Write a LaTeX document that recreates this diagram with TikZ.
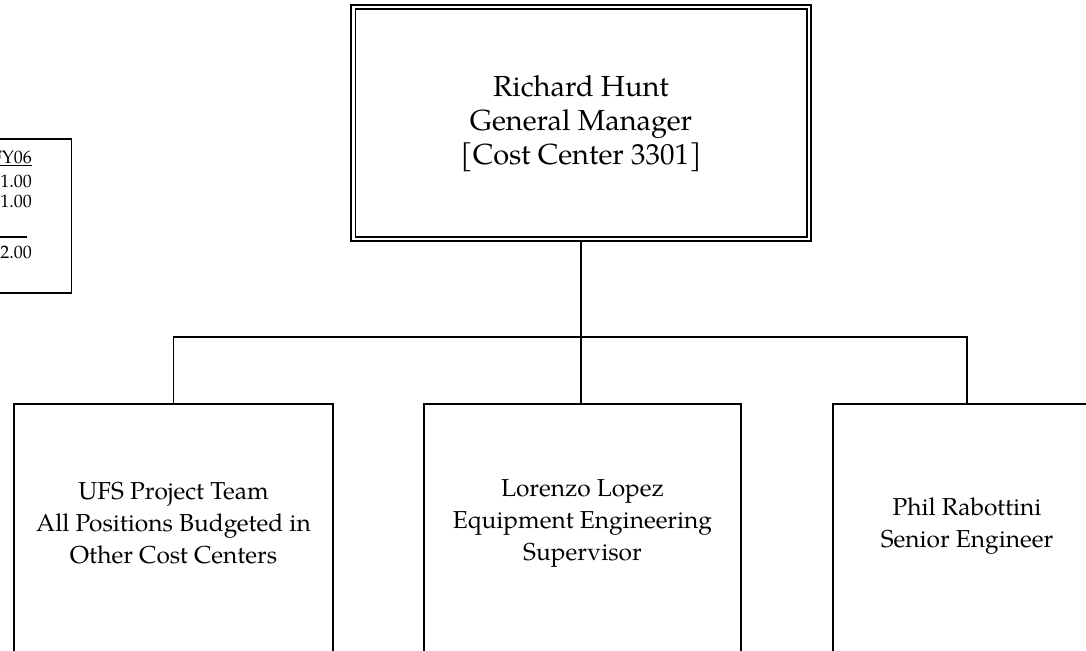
\documentclass[tikz,border=0pt]{standalone}
\usepackage{fontspec}
\setmainfont{TeX Gyre Pagella}
\begin{document}
\begin{tikzpicture}[x=1pt,y=-1pt,
  box/.style={draw, line width=1.7pt, rectangle, inner sep=0pt},
  conn/.style={line width=1.7pt},
  toptext/.style={font=\fontsize{29}{34}\selectfont, align=center, inner sep=0pt},
  subtext/.style={font=\fontsize{24.5}{32}\selectfont, align=center, inner sep=0pt},
  legtext/.style={font=\fontsize{18}{20}\selectfont, anchor=base east, inner sep=0pt}]
\useasboundingbox (0,0) rectangle (1086,650);
\clip (0,0) rectangle (1086,650);
% top box with double border
\node[box, line width=2.7pt, minimum width=460pt, minimum height=236pt] (gm) at (581,123) {};
\draw[line width=1.3pt] ([xshift=5.5pt,yshift=-5.5pt]gm.north west) rectangle ([xshift=-5.5pt,yshift=5.5pt]gm.south east);
\node[toptext] (gmT) at (581,124) {Richard Hunt\\General Manager\\{[Cost Center 3301]}};
% bottom boxes
\node[box, minimum width=319pt, minimum height=300pt, anchor=north] (ufs) at (173.5,403) {};
\node[box, minimum width=317pt, minimum height=300pt, anchor=north] (lop) at (582.5,403) {};
\node[box, minimum width=268pt, minimum height=300pt, anchor=north] (phil) at (967,403) {};
\node[subtext] (ufsT) at (173.5,523) {UFS Project Team\\All Positions Budgeted in\\Other Cost Centers};
\node[subtext] (lopT) at (582.5,523) {Lorenzo Lopez\\Equipment Engineering\\Supervisor};
\node[subtext] (philT) at (967,526) {Phil Rabottini\\Senior Engineer};
% connectors
\coordinate (j) at (581,337);
\draw[conn] (gm.south -| j) -- (lop.north -| j);
\draw[conn] (ufs.north) |- (j) -| (phil.north);
% legend box (partly outside)
\node[box, line width=1.5pt, minimum width=160pt, minimum height=154pt, anchor=north east] (leg) at (72,138) {};
\node[legtext] (fy) at (32,163) {\underline{FY06}};
\node[legtext] (v1) at (32,187) {1.00};
\node[legtext] (v2) at (32,207) {1.00};
\node[legtext] (vt) at (32,258) {2.00};
\draw[line width=1.2pt] (-40,237) -- (27,237);
\end{tikzpicture}
\end{document}
